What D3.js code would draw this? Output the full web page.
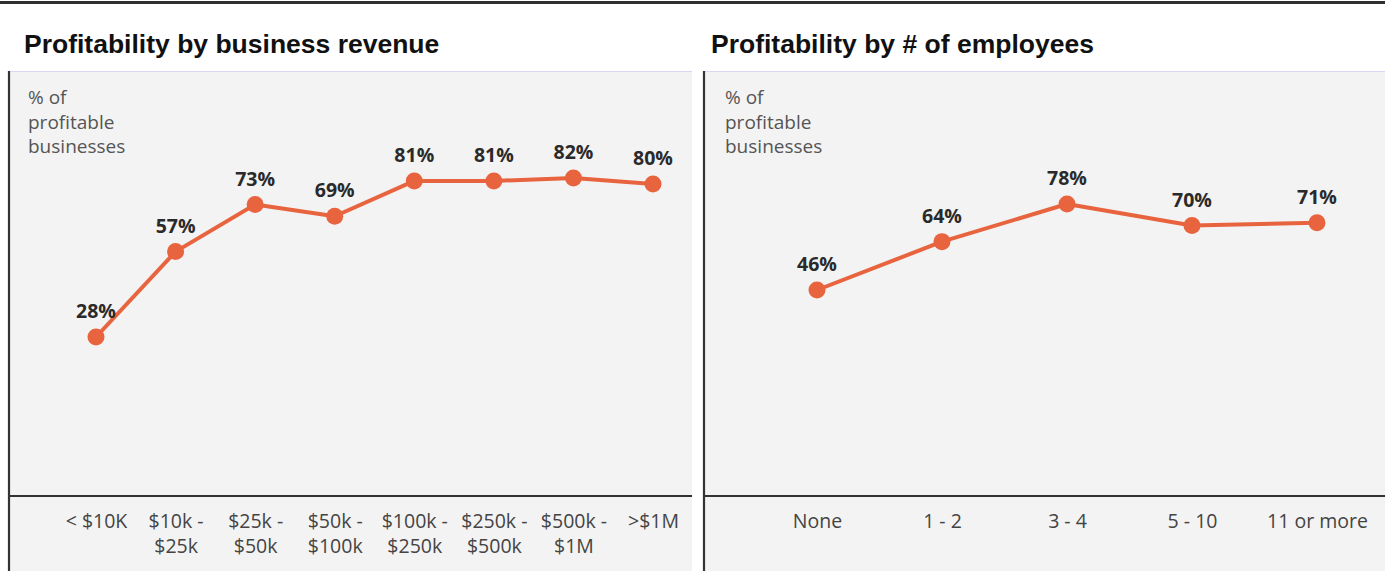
<!DOCTYPE html>
<html>
<head>
<meta charset="utf-8">
<script src="https://cdn.jsdelivr.net/npm/d3@7"></script>
<style>
  html, body { margin: 0; padding: 0; background: #ffffff; }
  svg { display: block; }
</style>
</head>
<body>
<svg id="chart" width="1385" height="571"></svg>
<script>
// Share of profitable businesses by annual revenue band
const revenueBands = ["< $10K", "$10k -|$25k", "$25k -|$50k", "$50k -|$100k", "$100k -|$250k", "$250k -|$500k", "$500k -|$1M", ">$1M"];
const revenueProfitable = [28, 57, 73, 69, 81, 81, 82, 80];

// Share of profitable businesses by headcount
const employeeBands = ["None", "1 - 2", "3 - 4", "5 - 10", "11 or more"];
const employeeProfitable = [46, 64, 78, 70, 71];

const titles = ["Profitability by business revenue", "Profitability by # of employees"];
const yLabelLines = ["% of", "profitable", "businesses"];

const ORANGE = "#e8643f";
const BODY_FONT = "'Open Sans', Lato, sans-serif";
const svg = d3.select("#chart");

// Rule across the top of the page
svg.append("rect").attr("x", 0).attr("y", 1).attr("width", 1385).attr("height", 3).attr("fill", "#2f2f2f");

function panel(opts) {
  const g = svg.append("g");
  const { left, right, top, axisY, bottom } = opts;

  g.append("text")
    .attr("x", opts.titleX).attr("y", 53)
    .attr("font-family", "'Liberation Sans', Arial, sans-serif")
    .attr("font-weight", "bold").attr("font-size", 26.5)
    .attr("fill", "#111")
    .text(opts.title);

  // Plot background
  g.append("rect").attr("x", left).attr("y", top).attr("width", right - left).attr("height", bottom - top)
    .attr("fill", "#f3f3f3");
  g.append("line").attr("x1", left).attr("x2", right).attr("y1", top + 0.5).attr("y2", top + 0.5)
    .attr("stroke", "#d9d7f2").attr("stroke-width", 1);

  // Axis frame
  g.append("line").attr("x1", left + 1).attr("x2", left + 1).attr("y1", top).attr("y2", bottom)
    .attr("stroke", "#333").attr("stroke-width", 2.2);
  g.append("line").attr("x1", left).attr("x2", right).attr("y1", axisY).attr("y2", axisY)
    .attr("stroke", "#333").attr("stroke-width", 2.2);

  // Y axis caption
  const cap = g.append("text")
    .attr("font-family", BODY_FONT)
    .attr("font-size", 19).attr("fill", "#555");
  yLabelLines.forEach((t, i) => {
    cap.append("tspan").attr("x", opts.capX).attr("y", 104 + i * 24.5).text(t);
  });

  const x = d3.scalePoint().domain(opts.categories).range(opts.xRange);
  const y = d3.scaleLinear().domain(opts.yDomain).range(opts.yRange);

  // Category labels
  const xAxis = g.append("g").attr("transform", `translate(0,${axisY})`)
    .call(d3.axisBottom(x).tickSize(0).tickFormat(() => ""));
  xAxis.select(".domain").remove();
  xAxis.selectAll(".tick").each(function (d) {
    const t = d3.select(this).select("text")
      .attr("font-family", BODY_FONT)
      .attr("font-size", 19.5).attr("fill", "#444")
      .attr("text-anchor", "middle").attr("dy", null).attr("y", 0);
    d.split("|").forEach((line, i) => {
      t.append("tspan").attr("x", 0).attr("y", 32 + i * 25).text(line);
    });
  });

  const pts = opts.categories.map((c, i) => ({ c, v: opts.values[i] }));

  g.append("path").datum(pts)
    .attr("fill", "none").attr("stroke", ORANGE).attr("stroke-width", 4)
    .attr("stroke-linejoin", "round")
    .attr("d", d3.line().x(d => x(d.c)).y(d => y(d.v)));

  g.selectAll(".dot").data(pts).join("circle")
    .attr("cx", d => x(d.c)).attr("cy", d => y(d.v)).attr("r", 8.5)
    .attr("fill", ORANGE);

  g.selectAll(".val").data(pts).join("text")
    .attr("x", d => x(d.c)).attr("y", d => y(d.v) - 19)
    .attr("text-anchor", "middle")
    .attr("font-family", BODY_FONT)
    .attr("font-weight", "bold").attr("font-size", 19.5)
    .attr("fill", "#2a2a2a")
    .text(d => d.v + "%");
}

panel({
  title: titles[0], titleX: 24, capX: 28,
  left: 8, right: 692, top: 71, axisY: 496, bottom: 571,
  categories: revenueBands, values: revenueProfitable,
  xRange: [96, 653],
  yDomain: [28, 82], yRange: [337, 178]
});

panel({
  title: titles[1], titleX: 711, capX: 725,
  left: 703, right: 1385, top: 71, axisY: 496, bottom: 571,
  categories: employeeBands, values: employeeProfitable,
  xRange: [817, 1317],
  yDomain: [46, 78], yRange: [290, 204]
});
</script>
</body>
</html>
